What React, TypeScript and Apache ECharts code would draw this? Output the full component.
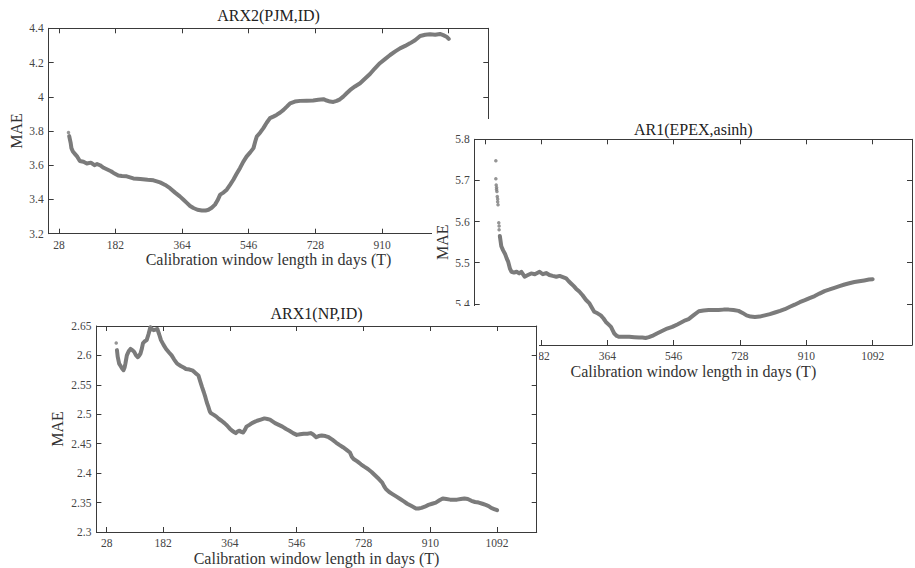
import React, { useEffect, useRef } from "react";
import * as echarts from "echarts";

// ---------- shared axis content ----------
const xTicks = [28, 182, 364, 546, 728, 910, 1092];
const xAxisTitle = "Calibration window length in days (T)";
const yAxisTitle = "MAE";

// ---------- ARX2(PJM,ID) ----------
const arx2Title = "ARX2(PJM,ID)";
const arx2HeadDays = [54];
const arx2HeadMae = [3.791];
const arx2Days = [56, 58, 60, 62, 66, 72, 78, 85, 95, 104, 115, 125, 132, 140, 150, 160, 170, 177, 190, 200, 213, 231, 250, 270, 286, 304, 318, 331, 345, 358, 368, 377, 386, 395, 406, 418, 428, 436, 445, 454, 461, 468, 477, 486, 495, 504, 513, 522, 531, 540, 550, 559, 564, 568, 577, 586, 595, 604, 613, 622, 632, 641, 650, 659, 672, 686, 704, 722, 736, 750, 759, 768, 777, 786, 795, 804, 814, 823, 836, 850, 863, 877, 890, 904, 918, 932, 946, 959, 973, 986, 1000, 1014, 1028, 1041, 1055, 1068, 1077, 1086, 1092];
const arx2Mae = [3.77, 3.75, 3.73, 3.70, 3.68, 3.665, 3.65, 3.625, 3.62, 3.61, 3.615, 3.60, 3.607, 3.60, 3.585, 3.575, 3.565, 3.555, 3.54, 3.537, 3.535, 3.523, 3.52, 3.515, 3.512, 3.50, 3.485, 3.466, 3.44, 3.418, 3.398, 3.38, 3.362, 3.35, 3.34, 3.336, 3.335, 3.34, 3.352, 3.37, 3.395, 3.428, 3.44, 3.457, 3.485, 3.515, 3.55, 3.583, 3.62, 3.65, 3.675, 3.70, 3.74, 3.768, 3.79, 3.817, 3.848, 3.875, 3.884, 3.894, 3.908, 3.923, 3.942, 3.962, 3.972, 3.976, 3.977, 3.978, 3.982, 3.986, 3.978, 3.972, 3.97, 3.976, 3.985, 4.001, 4.022, 4.04, 4.06, 4.079, 4.105, 4.133, 4.165, 4.196, 4.22, 4.244, 4.265, 4.283, 4.297, 4.312, 4.33, 4.355, 4.362, 4.365, 4.362, 4.367, 4.36, 4.351, 4.338];

// ---------- AR1(EPEX,asinh) ----------
const ar1Title = "AR1(EPEX,asinh)";
const ar1HeadDays = [58, 58, 59, 60, 60, 61, 62, 63, 63, 64, 66, 67, 67];
const ar1HeadMae = [5.748, 5.704, 5.689, 5.683, 5.678, 5.673, 5.661, 5.655, 5.648, 5.641, 5.597, 5.589, 5.58];
const ar1Days = [69, 73, 78, 83, 88, 92, 97, 101, 108, 115, 122, 128, 137, 146, 155, 165, 178, 187, 196, 205, 214, 224, 233, 242, 251, 258, 265, 272, 278, 287, 296, 305, 315, 322, 328, 337, 346, 353, 360, 367, 374, 379, 383, 390, 396, 410, 424, 438, 451, 460, 469, 478, 487, 500, 514, 528, 542, 556, 569, 578, 587, 600, 615, 628, 642, 655, 669, 683, 697, 710, 724, 735, 746, 757, 769, 782, 796, 810, 824, 838, 851, 865, 878, 892, 906, 919, 933, 946, 960, 974, 987, 1001, 1015, 1028, 1042, 1055, 1069, 1082, 1092];
const ar1Mae = [5.565, 5.54, 5.53, 5.522, 5.51, 5.502, 5.485, 5.478, 5.476, 5.478, 5.474, 5.478, 5.466, 5.47, 5.474, 5.472, 5.478, 5.472, 5.475, 5.47, 5.468, 5.466, 5.468, 5.465, 5.462, 5.455, 5.449, 5.443, 5.437, 5.43, 5.421, 5.41, 5.401, 5.39, 5.381, 5.377, 5.372, 5.365, 5.356, 5.35, 5.344, 5.335, 5.328, 5.322, 5.32, 5.32, 5.32, 5.319, 5.318, 5.318, 5.317, 5.319, 5.322, 5.328, 5.334, 5.34, 5.344, 5.35, 5.356, 5.36, 5.363, 5.372, 5.382, 5.384, 5.385, 5.385, 5.385, 5.386, 5.386, 5.385, 5.383, 5.378, 5.372, 5.369, 5.368, 5.369, 5.372, 5.375, 5.379, 5.383, 5.387, 5.393, 5.398, 5.404, 5.409, 5.414, 5.419, 5.425, 5.431, 5.435, 5.439, 5.443, 5.447, 5.45, 5.453, 5.455, 5.457, 5.459, 5.46];

// ---------- ARX1(NP,ID) ----------
const arx1Title = "ARX1(NP,ID)";
const arx1HeadDays = [54];
const arx1HeadMae = [2.621];
const arx1Days = [56, 58, 60, 62, 66, 70, 74, 77, 79, 83, 88, 93, 98, 103, 108, 113, 117, 120, 124, 127, 132, 137, 142, 147, 151, 156, 161, 166, 171, 176, 183, 190, 198, 205, 212, 220, 230, 239, 244, 254, 263, 270, 278, 283, 288, 293, 297, 301, 305, 309, 312, 320, 327, 334, 341, 349, 356, 363, 370, 375, 380, 385, 390, 395, 400, 405, 409, 417, 424, 431, 438, 448, 458, 466, 473, 480, 487, 497, 507, 517, 526, 536, 546, 555, 565, 575, 584, 590, 599, 606, 614, 624, 633, 643, 653, 662, 672, 681, 691, 696, 701, 711, 721, 730, 740, 750, 760, 770, 779, 784, 789, 798, 808, 818, 828, 838, 847, 859, 871, 878, 886, 895, 905, 915, 925, 935, 944, 954, 964, 974, 983, 993, 1003, 1012, 1022, 1032, 1042, 1052, 1061, 1069, 1076, 1084, 1092];
const arx1Mae = [2.609, 2.598, 2.592, 2.586, 2.582, 2.578, 2.575, 2.58, 2.586, 2.6, 2.607, 2.611, 2.609, 2.606, 2.6, 2.597, 2.6, 2.603, 2.612, 2.621, 2.624, 2.626, 2.636, 2.648, 2.645, 2.643, 2.644, 2.645, 2.636, 2.626, 2.618, 2.611, 2.605, 2.6, 2.593, 2.586, 2.582, 2.579, 2.577, 2.576, 2.574, 2.57, 2.566, 2.556, 2.546, 2.537, 2.529, 2.52, 2.513, 2.505, 2.502, 2.499, 2.496, 2.492, 2.489, 2.485, 2.481, 2.476, 2.472, 2.47, 2.468, 2.471, 2.472, 2.47, 2.469, 2.474, 2.479, 2.482, 2.485, 2.487, 2.489, 2.491, 2.493, 2.492, 2.491, 2.488, 2.485, 2.482, 2.479, 2.475, 2.472, 2.468, 2.465, 2.466, 2.467, 2.467, 2.468, 2.466, 2.461, 2.463, 2.464, 2.463, 2.461, 2.457, 2.452, 2.448, 2.444, 2.44, 2.435, 2.428, 2.424, 2.42, 2.415, 2.411, 2.407, 2.402, 2.396, 2.39, 2.384, 2.378, 2.373, 2.368, 2.364, 2.36, 2.356, 2.352, 2.348, 2.344, 2.34, 2.34, 2.341, 2.343, 2.346, 2.348, 2.35, 2.354, 2.357, 2.356, 2.355, 2.355, 2.355, 2.356, 2.357, 2.356, 2.353, 2.351, 2.35, 2.348, 2.346, 2.344, 2.341, 2.339, 2.337];

// ---------- styling ----------
const FONT = "Liberation Serif";
const AXIS_COLOR = "#3a3a3a";
const LABEL_COLOR = "#444";
const DOT_COLOR = "#7b7b7b";

type PanelCfg = {
  box: { left: number; top: number; width: number; height: number };
  grid: { left: number; top: number; width: number; height: number };
  title: string;
  titleOffset: number;
  yMin: number;
  yMax: number;
  yInterval: number;
  yNameGap: number;
  headDays: number[];
  headMae: number[];
  days: number[];
  mae: number[];
};

function buildOption(c: PanelCfg) {
  const line = { color: AXIS_COLOR, width: 1 };
  const tick = { show: true, inside: true, length: 5, lineStyle: line };
  const xCommon = {
    type: "value",
    min: 0,
    max: 1200,
    splitLine: { show: false },
    axisLine: { show: true, onZero: false, lineStyle: line },
  };
  const yCommon = {
    type: "value",
    min: c.yMin,
    max: c.yMax,
    interval: c.yInterval,
    splitLine: { show: false },
    axisLine: { show: true, onZero: false, lineStyle: line },
    axisTick: tick,
  };
  return {
    animation: false,
    backgroundColor: "#fff",
    grid: { ...c.grid, show: false, containLabel: false, outerBoundsMode: "none" },
    xAxis: [
      {
        ...xCommon,
        position: "bottom",
        axisTick: { ...tick, customValues: xTicks },
        axisLabel: {
          customValues: xTicks,
          formatter: (v: number) => String(v),
          margin: 5,
          fontSize: 11.5,
          fontFamily: FONT,
          color: LABEL_COLOR,
        },
        name: xAxisTitle,
        nameLocation: "middle",
        nameGap: 18,
        nameMoveOverlap: false,
        nameTextStyle: { fontSize: 16, fontFamily: FONT, color: "#333" },
      },
      {
        ...xCommon,
        position: "top",
        axisTick: { ...tick, customValues: xTicks },
        axisLabel: { show: false, customValues: xTicks },
      },
    ],
    yAxis: [
      {
        ...yCommon,
        position: "left",
        axisLabel: {
          margin: 5,
          fontSize: 11.5,
          fontFamily: FONT,
          color: LABEL_COLOR,
          formatter: (v: number) => String(Math.round(v * 1000) / 1000),
        },
        name: yAxisTitle,
        nameLocation: "middle",
        nameGap: c.yNameGap,
        nameMoveOverlap: false,
        nameTextStyle: { fontSize: 16, fontFamily: FONT, color: "#333" },
      },
      {
        ...yCommon,
        position: "right",
        axisLabel: { show: false },
      },
    ],
    graphic: [
      {
        type: "text",
        x: c.grid.left + c.grid.width / 2,
        y: c.grid.top - c.titleOffset,
        style: {
          text: c.title,
          fontSize: 16,
          fontFamily: FONT,
          fill: "#222",
          textAlign: "center",
          textVerticalAlign: "middle",
        },
      },
    ],
    series: [
      {
        type: "line",
        xAxisIndex: 0,
        yAxisIndex: 0,
        data: c.days.map((d, i) => [d, c.mae[i]]),
        showSymbol: false,
        symbol: "none",
        lineStyle: { width: 4, color: DOT_COLOR, cap: "round", join: "round" },
      },
      {
        type: "scatter",
        xAxisIndex: 0,
        yAxisIndex: 0,
        data: c.headDays.map((d, i) => [d, c.headMae[i]]),
        symbolSize: 3.5,
        itemStyle: { color: DOT_COLOR },
      },
    ],
  };
}

function Panel({ cfg }: { cfg: PanelCfg }) {
  const ref = useRef<HTMLDivElement>(null);
  useEffect(() => {
    if (!ref.current) return;
    const chart = echarts.init(ref.current, null, { renderer: "svg" });
    chart.setOption(buildOption(cfg) as any);
    return () => chart.dispose();
  }, []);
  return (
    <div
      ref={ref}
      style={{
        position: "absolute",
        left: cfg.box.left,
        top: cfg.box.top,
        width: cfg.box.width,
        height: cfg.box.height,
        background: "#fff",
      }}
    />
  );
}

const panel1: PanelCfg = {
  box: { left: 0, top: 0, width: 492, height: 276 },
  grid: { left: 48.7, top: 28.3, width: 439.6, height: 205.4 },
  title: arx2Title,
  titleOffset: 13,
  yMin: 3.2,
  yMax: 4.4,
  yInterval: 0.2,
  yNameGap: 24,
  headDays: arx2HeadDays,
  headMae: arx2HeadMae,
  days: arx2Days,
  mae: arx2Mae,
};

const panel2: PanelCfg = {
  box: { left: 432, top: 119, width: 483, height: 268 },
  grid: { left: 42.7, top: 20.3, width: 437.3, height: 205.7 },
  title: ar1Title,
  titleOffset: 10,
  yMin: 5.3,
  yMax: 5.8,
  yInterval: 0.1,
  yNameGap: 24,
  headDays: ar1HeadDays,
  headMae: ar1HeadMae,
  days: ar1Days,
  mae: ar1Mae,
};

const panel3: PanelCfg = {
  box: { left: 40, top: 306, width: 498.5, height: 262 },
  grid: { left: 56.4, top: 20, width: 440.3, height: 206 },
  title: arx1Title,
  titleOffset: 12.7,
  yMin: 2.3,
  yMax: 2.65,
  yInterval: 0.05,
  yNameGap: 31,
  headDays: arx1HeadDays,
  headMae: arx1HeadMae,
  days: arx1Days,
  mae: arx1Mae,
};

export default function App() {
  return (
    <div
      style={{
        position: "fixed",
        left: 0,
        top: 0,
        width: 915,
        height: 568,
        background: "#fff",
        overflow: "hidden",
      }}
    >
      <Panel cfg={panel1} />
      <Panel cfg={panel2} />
      <Panel cfg={panel3} />
    </div>
  );
}
